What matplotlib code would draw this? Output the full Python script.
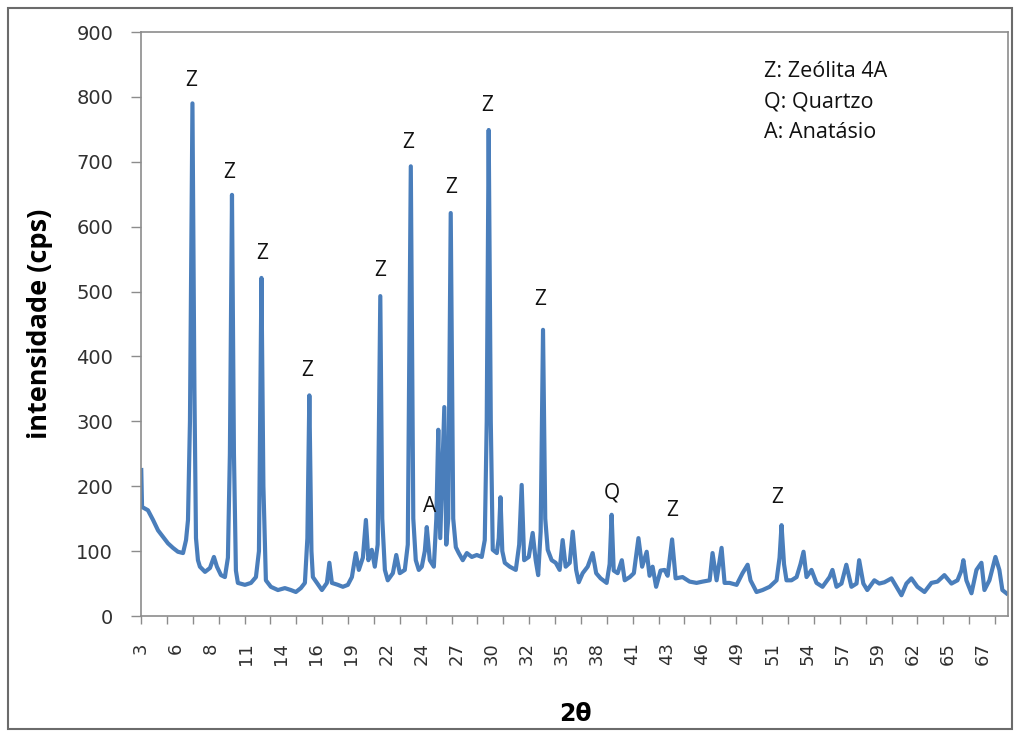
import numpy as np
import matplotlib
matplotlib.use("Agg")
import matplotlib.pyplot as plt
from matplotlib.patches import Rectangle
from matplotlib.ticker import FixedLocator, FixedFormatter

# difratograma da amostra (2theta em graus, intensidade em cps)
two_theta = [
    3.02, 3.08, 3.53, 3.92, 4.30, 4.68, 5.06, 5.44, 5.82, 6.21, 6.44, 6.59, 6.74, 6.93, 7.08,
    7.20, 7.35, 7.50, 7.89, 8.27, 8.57, 8.80, 9.11, 9.41, 9.64, 9.79, 9.95, 10.10, 10.25, 10.40,
    10.94, 11.40, 11.78, 12.01, 12.20, 12.35, 12.54, 12.92, 13.46, 13.99, 14.45, 14.83, 15.21,
    15.52, 15.71, 15.86, 16.02, 16.13, 16.44, 16.82, 17.20, 17.39, 17.58, 18.04, 18.42, 18.80,
    19.11, 19.41, 19.64, 19.95, 20.18, 20.37, 20.63, 20.86, 21.08, 21.28, 21.43, 21.63, 21.85,
    22.24, 22.50, 22.77, 23.15, 23.38, 23.61, 23.80, 23.99, 24.22, 24.45, 24.68, 24.83, 25.06,
    25.37, 25.56, 25.71, 25.86, 25.98, 26.17, 26.32, 26.47, 26.66, 26.85, 27.05, 27.27, 27.58,
    27.89, 28.27, 28.65, 29.03, 29.26, 29.41, 29.56, 29.72, 29.87, 30.18, 30.33, 30.46, 30.60,
    30.79, 31.17, 31.63, 31.89, 32.08, 32.27, 32.62, 32.92, 33.15, 33.34, 33.53, 33.71, 33.88,
    34.07, 34.37, 34.68, 34.98, 35.21, 35.44, 35.75, 35.98, 36.24, 36.44, 36.74, 37.12, 37.50,
    37.77, 38.11, 38.57, 38.80, 38.95, 39.11, 39.41, 39.73, 39.95, 40.34, 40.65, 41.00, 41.28,
    41.63, 41.85, 42.08, 42.35, 42.69, 43.00, 43.23, 43.57, 43.84, 44.37, 44.91, 45.44, 45.90,
    46.44, 46.66, 46.97, 47.35, 47.58, 47.96, 48.50, 48.95, 49.34, 49.56, 50.02, 50.48, 51.02,
    51.55, 51.78, 51.93, 52.12, 52.31, 52.69, 53.08, 53.38, 53.61, 53.84, 54.22, 54.60, 55.06,
    55.60, 55.82, 56.13, 56.51, 56.88, 57.27, 57.66, 57.86, 58.18, 58.48, 59.02, 59.40, 59.79,
    60.33, 60.71, 61.09, 61.47, 61.85, 62.31, 62.85, 63.38, 63.84, 64.37, 64.91, 65.37, 65.67,
    65.82, 66.05, 66.44, 66.82, 67.20, 67.43, 67.81, 68.27, 68.57, 68.80, 69.11,
]
intensity = [
    225, 168, 163, 148, 132, 122, 112, 105, 99, 97, 117, 148, 300, 790, 350,
    120, 86, 76, 68, 74, 91, 76, 63, 60, 90, 250, 649, 250, 70, 51,
    48, 51, 60, 100, 521, 200, 55, 45, 40, 43, 40, 37, 43,
    51, 120, 340, 100, 60, 51, 40, 51, 82, 51, 48, 45, 48,
    60, 97, 71, 90, 148, 86, 102, 76, 110, 493, 150, 71, 55,
    66, 94, 66, 71, 110, 693, 150, 86, 71, 76, 100, 137, 86,
    76, 150, 287, 120, 200, 322, 110, 150, 621, 150, 106, 97, 86,
    97, 91, 94, 91, 117, 300, 749, 300, 102, 97, 120, 183, 100,
    82, 76, 71, 110, 202, 86, 91, 128, 86, 63, 130, 441, 150,
    102, 86, 82, 71, 117, 76, 82, 130, 71, 52, 66, 76, 97,
    66, 58, 51, 80, 156, 70, 66, 86, 55, 60, 66, 120, 76,
    99, 62, 76, 45, 70, 71, 62, 118, 58, 60, 53, 51, 53,
    55, 97, 55, 105, 51, 51, 48, 66, 79, 55, 37, 40, 45,
    55, 90, 140, 80, 55, 55, 60, 80, 99, 60, 71, 51, 45,
    60, 71, 45, 50, 79, 45, 50, 86, 50, 40, 55, 50, 52,
    58, 45, 32, 50, 58, 45, 37, 51, 53, 63, 50, 55, 70,
    86, 55, 35, 71, 82, 40, 55, 91, 71, 40, 35,
]

# identificacao das fases
phase_letters = ["Z", "Z", "Z", "Z", "Z", "Z", "Z", "Z", "Z", "A", "Q", "Z", "Z"]
phase_x = [6.82, 9.72, 12.24, 15.67, 21.24, 23.38, 26.66, 29.41, 33.46, 25.06, 38.95, 43.61, 51.63]
phase_y = [826, 683, 558, 379, 532, 730, 661, 786, 487, 169, 190, 163, 183]
legend_lines = ["Z: Zeólita 4A", "Q: Quartzo", "A: Anatásio"]

# eixo de categorias: rotulos a cada 2.68 graus, marcas a cada ~1.98 graus
x_tick_labels = ["3", "6", "8", "11", "14", "16", "19", "22", "24", "27", "30", "32", "35",
                 "38", "41", "43", "46", "49", "51", "54", "57", "59", "62", "65", "67"]
x_label_step = 2.68
x_mark_step = 1.977
y_ticks = [0, 100, 200, 300, 400, 500, 600, 700, 800, 900]

W, H = 1015, 732
fig = plt.figure(figsize=(W / 100, H / 100), dpi=100)
fig.patch.set_facecolor("white")
fig.patches.append(Rectangle((8 / W, 3 / H), 1004 / W, 721 / H, transform=fig.transFigure,
                             fill=False, edgecolor="#6b6b6b", linewidth=1.5))

ax = fig.add_axes([141 / W, 1 - 616 / H, 867 / W, 584 / H])
ax.plot(two_theta, intensity, color="#4a7ebb", linewidth=3.0, solid_joinstyle="round")

x_end = 69.23
ax.set_xlim(3, x_end)
ax.set_ylim(0, 900)

label_pos = [3 + x_label_step * i for i in range(len(x_tick_labels))]
ax.xaxis.set_major_locator(FixedLocator(label_pos))
ax.xaxis.set_major_formatter(FixedFormatter(x_tick_labels))
ax.xaxis.set_minor_locator(FixedLocator(np.arange(3, x_end, x_mark_step)))
ax.xaxis.remove_overlapping_locs = False
ax.tick_params(axis="x", which="major", length=0, pad=19, labelrotation=90,
               labelsize=13, labelcolor="#303030")
ax.tick_params(axis="x", which="minor", length=6, width=1, color="#8c8c8c", direction="out")

ax.set_yticks(y_ticks)
ax.tick_params(axis="y", length=7, width=1, color="#8c8c8c", pad=13,
               labelsize=14, labelcolor="#303030")

for side in ["left", "bottom", "top", "right"]:
    ax.spines[side].set_color("#8c8c8c")
    ax.spines[side].set_linewidth(1.2)

for letter, px, py in zip(phase_letters, phase_x, phase_y):
    ax.text(px, py, letter, ha="center", va="center", fontsize=15,
            family="Open Sans", color="#111111")

for i, line in enumerate(legend_lines):
    ax.text(0.718, 0.932 - i * 0.052, line, transform=ax.transAxes, ha="left", va="center",
            fontsize=15.5, family="Open Sans", color="#111111")

ax.set_ylabel("intensidade (cps)", fontsize=19.5, fontweight="bold", family="Open Sans")
ax.yaxis.set_label_coords(-0.102, 0.5)
fig.text(575 / W, 1 - 714 / H, "2θ", ha="center", va="center", fontsize=17,
         fontweight="bold", family="DejaVu Sans")

fig.savefig("out.png", dpi=100)
